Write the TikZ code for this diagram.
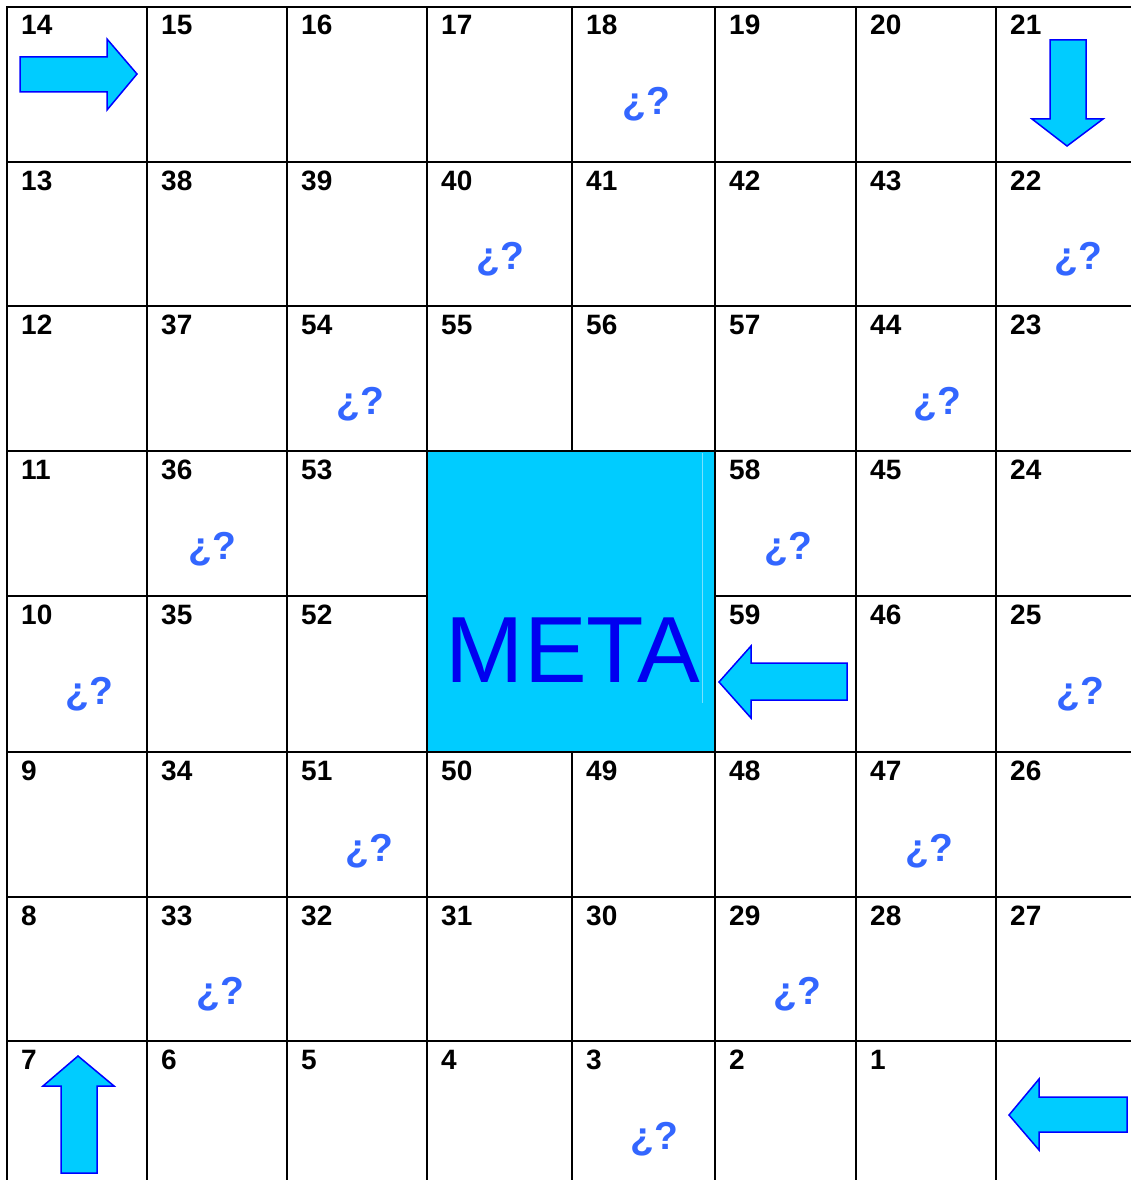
\documentclass[tikz,border=0pt]{standalone}
\usepackage{fontspec}
\setmainfont{Liberation Sans}
\definecolor{cyanfill}{RGB}{0,204,255}
\definecolor{arrowblue}{RGB}{0,0,255}
\definecolor{metablue}{RGB}{0,0,240}
\definecolor{qblue}{RGB}{51,102,255}
\definecolor{faintline}{RGB}{120,225,255}
\begin{document}
\begin{tikzpicture}[x=1pt,y=-1pt,
  num/.style={anchor=base west,inner sep=0pt,font=\fontsize{28}{28}\selectfont\bfseries},
  qm/.style={inner sep=0pt,font=\fontsize{39}{39}\selectfont\bfseries,text=qblue},
  gridline/.style={line width=2pt,black,line cap=rect},
  blockarrow/.style={fill=cyanfill,draw=arrowblue,line width=1.5pt,line join=miter}]
\useasboundingbox (0,0) rectangle (1130,1180);
% goal area
\fill[cyanfill] (427,451) rectangle (715,752);
\draw[faintline,line width=0.6pt] (702,453) -- (702,703);
% grid
\foreach \x in {7,147,287,427,715,856,996} \draw[gridline] (\x,7) -- (\x,1185);
\draw[gridline] (572,7) -- (572,451);
\draw[gridline] (572,752) -- (572,1185);
\foreach \y in {7,162,306,451,752,897,1041} \draw[gridline] (7,\y) -- (1135,\y);
\draw[gridline] (7,596) -- (427,596);
\draw[gridline] (715,596) -- (1135,596);
% numbers
\foreach \x/\lab in {7/14,147/15,287/16,427/17,572/18,715/19,856/20,996/21}
  \node[num] (n\lab) at (\x+14,7+28) {\lab};
\foreach \x/\lab in {7/13,147/38,287/39,427/40,572/41,715/42,856/43,996/22}
  \node[num] (n\lab) at (\x+14,162+28) {\lab};
\foreach \x/\lab in {7/12,147/37,287/54,427/55,572/56,715/57,856/44,996/23}
  \node[num] (n\lab) at (\x+14,306+28) {\lab};
\foreach \x/\lab in {7/11,147/36,287/53,715/58,856/45,996/24}
  \node[num] (n\lab) at (\x+14,451+28) {\lab};
\foreach \x/\lab in {7/10,147/35,287/52,715/59,856/46,996/25}
  \node[num] (n\lab) at (\x+14,596+28) {\lab};
\foreach \x/\lab in {7/9,147/34,287/51,427/50,572/49,715/48,856/47,996/26}
  \node[num] (n\lab) at (\x+14,752+28) {\lab};
\foreach \x/\lab in {7/8,147/33,287/32,427/31,572/30,715/29,856/28,996/27}
  \node[num] (n\lab) at (\x+14,897+28) {\lab};
\foreach \x/\lab in {7/7,147/6,287/5,427/4,572/3,715/2,856/1}
  \node[num] (n\lab) at (\x+14,1041+28) {\lab};
% question marks
\foreach \x/\y/\id in {646/104/18,500/259/40,1078/259/22,360/404/54,937/404/44,
  212/549/36,788/549/58,89/694/10,1080/694/25,369/851/51,929/851/47,
  220/994/33,797/994/29,654/1139/3}
  \node[qm] (q\id) at (\x,\y) {¿?};
% META
\node[anchor=base,inner sep=0pt,font=\fontsize{94}{94}\selectfont,text=metablue] (meta) at (573,682) {META};
% block arrows
\draw[blockarrow] (20,57) -- (107,57) -- (107,39) -- (137,74) -- (107,110) -- (107,92) -- (20,92) -- cycle;
\draw[blockarrow] (1050,40) -- (1086,40) -- (1086,119) -- (1103,119) -- (1067,146) -- (1032,119) -- (1050,119) -- cycle;
\draw[blockarrow] (847,663) -- (751,663) -- (751,646) -- (719,682) -- (751,718) -- (751,700) -- (847,700) -- cycle;
\draw[blockarrow] (61,1173) -- (61,1086) -- (43,1086) -- (78,1056) -- (114,1086) -- (97,1086) -- (97,1173) -- cycle;
\draw[blockarrow] (1127,1097) -- (1039,1097) -- (1039,1079) -- (1009,1115) -- (1039,1150) -- (1039,1132) -- (1127,1132) -- cycle;
\end{tikzpicture}
\end{document}
